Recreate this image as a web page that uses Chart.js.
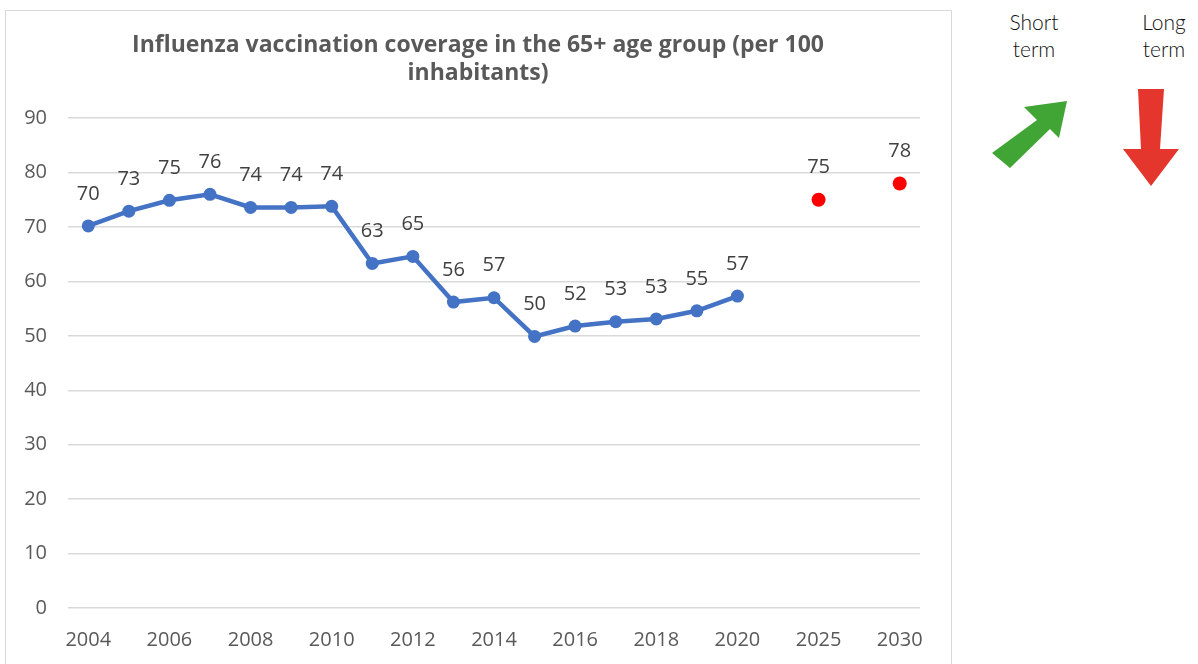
<!DOCTYPE html>
<html>
<head>
<meta charset="utf-8">
<script src="https://cdn.jsdelivr.net/npm/chart.js@4/dist/chart.umd.min.js"></script>
<style>
  html, body { margin: 0; padding: 0; background: #fff; width: 1198px; height: 664px; overflow: hidden; }
  #frame { position: absolute; left: 5px; top: 10px; width: 947px; height: 690px; border: 1.5px solid #d9d9d9; box-sizing: border-box; }
  #wrap { position: absolute; left: 6px; top: 11px; width: 944px; height: 673px; }
  .side { position: absolute; font-family: Lato, "Open Sans", sans-serif; font-weight: 300; font-size: 21px; color: #111; text-align: center; line-height: 27px; }
  svg { position: absolute; left: 0; top: 0; }
</style>
</head>
<body>
<div id="frame"></div>
<div id="wrap"><canvas id="c"></canvas></div>
<div class="side" style="left:984px; top:8px; width:100px;">Short<br>term</div>
<div class="side" style="left:1114px; top:8px; width:100px;">Long<br>term</div>
<svg width="1198" height="664">
  <polygon points="1067,101 1024,107 1037,120 992,153 1010,168 1050,129 1059,138" fill="#40a535"/>
  <polygon points="1138,89 1164,89 1160,149 1179,149 1151,186 1123,149 1141,149" fill="#e5362e"/>
</svg>
<script>
const years = ['2004','2005','2006','2007','2008','2009','2010','2011','2012','2013','2014','2015','2016','2017','2018','2019','2020','','2025','','2030'];
const coverage = [70.2, 72.9, 74.9, 76.0, 73.6, 73.6, 73.8, 63.3, 64.6, 56.2, 57.0, 49.9, 51.8, 52.6, 53.1, 54.6, 57.3, null, null, null, null];
const targets = [null, null, null, null, null, null, null, null, null, null, null, null, null, null, null, null, null, null, 75, null, 78];
const yTicks = [0, 10, 20, 30, 40, 50, 60, 70, 80, 90];
const titleLines = ['Influenza vaccination coverage in the 65+ age group (per 100', 'inhabitants)'];

const labelPlugin = {
  id: 'valueLabels',
  afterDatasetsDraw(chart) {
    const ctx = chart.ctx;
    ctx.save();
    ctx.font = '20px "Open Sans", sans-serif';
    ctx.fillStyle = '#404040';
    ctx.textAlign = 'center';
    ctx.textBaseline = 'middle';
    chart.data.datasets.forEach((ds, di) => {
      const meta = chart.getDatasetMeta(di);
      meta.data.forEach((pt, i) => {
        const v = ds.data[i];
        if (v === null || v === undefined) return;
        ctx.fillText(String(Math.round(v)), pt.x, pt.y - 32);
      });
    });
    ctx.restore();
  }
};

new Chart(document.getElementById('c'), {
  type: 'line',
  data: {
    labels: years,
    datasets: [
      {
        data: coverage,
        borderColor: '#4472c4',
        backgroundColor: '#4472c4',
        borderWidth: 4.5,
        pointRadius: 6.5,
        pointHoverRadius: 6.5,
        pointBackgroundColor: '#4472c4',
        pointBorderWidth: 0,
        tension: 0,
        spanGaps: false
      },
      {
        data: targets,
        showLine: false,
        borderColor: '#ff0000',
        backgroundColor: '#ff0000',
        pointRadius: 7,
        pointHoverRadius: 7,
        pointBackgroundColor: '#ff0000',
        pointBorderWidth: 0
      }
    ]
  },
  options: {
    responsive: true,
    maintainAspectRatio: false,
    animation: false,
    layout: { padding: { left: 0, right: 0, top: 0, bottom: 12 } },
    plugins: {
      legend: { display: false },
      tooltip: { enabled: false },
      title: {
        display: true,
        text: titleLines,
        color: '#595959',
        font: { family: '"Open Sans", sans-serif', size: 23, weight: 'bold', lineHeight: 1.22 },
        padding: { top: 20, bottom: 31 }
      }
    },
    scales: {
      x: {
        offset: true,
        grid: { display: false, drawTicks: false },
        border: { display: false },
        ticks: {
          autoSkip: false,
          maxRotation: 0,
          color: '#595959',
          font: { family: '"Open Sans", sans-serif', size: 20 },
          padding: 20,
          callback: function(val, idx) { return idx % 2 === 0 ? years[idx] : ''; }
        }
      },
      y: {
        min: 0,
        max: 90,
        afterFit(scale) { scale.width = 62; },
        afterBuildTicks(scale) { scale.ticks = yTicks.map(v => ({ value: v })); },
        grid: { color: '#d9d9d9', lineWidth: 1.5, drawTicks: false },
        border: { display: false },
        ticks: {
          color: '#595959',
          font: { family: '"Open Sans", sans-serif', size: 20 },
          padding: 21
        }
      },
      spacer: {
        position: 'right',
        axis: 'y',
        min: 0,
        max: 90,
        afterFit(scale) { scale.width = 30; },
        grid: { display: false, drawTicks: false },
        border: { display: false },
        ticks: { display: false }
      }
    }
  },
  plugins: [labelPlugin]
});
</script>
</body>
</html>
